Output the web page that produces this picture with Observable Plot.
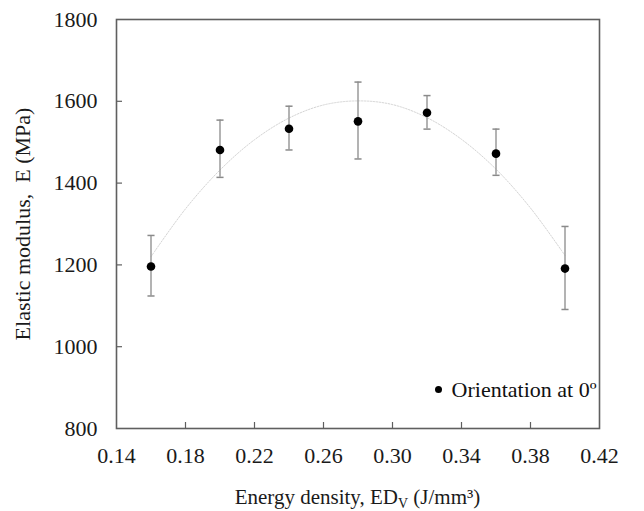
<!DOCTYPE html>
<html><head><meta charset="utf-8">
<script src="https://cdn.jsdelivr.net/npm/d3@7"></script>
<script src="https://cdn.jsdelivr.net/npm/@observablehq/plot@0.6"></script>
<style>
body{margin:0;background:#fff}
#chart{width:644px;height:511px}
#chart svg, #chart svg text{font-family:'Liberation Serif','Times New Roman',Times,'DejaVu Serif',serif !important}
</style>
</head><body><div id="chart"></div>
<script>
const energyDensity = [0.16, 0.20, 0.24, 0.28, 0.32, 0.36, 0.40];
const modulusMean   = [1196, 1481, 1533, 1551, 1572, 1472, 1191];
const modulusLow    = [1124, 1414, 1481, 1459, 1532, 1419, 1091];
const modulusHigh   = [1272, 1554, 1588, 1647, 1614, 1532, 1294];
// Trend line
const trendX = [0.16, 0.18, 0.20, 0.22, 0.24, 0.26, 0.28, 0.30, 0.32, 0.34, 0.36, 0.38, 0.40];
const trendE = [1220, 1337, 1432, 1506, 1559, 1591, 1601, 1592, 1560, 1507, 1434, 1339, 1223];
const xTicks = [0.14, 0.18, 0.22, 0.26, 0.30, 0.34, 0.38, 0.42];
const yTicks = [800, 1000, 1200, 1400, 1600, 1800];
const legendLabel = "Orientation at 0º";
const yTitle = "Elastic modulus,  E (MPa)";

const points = energyDensity.map((x, i) => ({x, e: modulusMean[i], lo: modulusLow[i], hi: modulusHigh[i]}));
const trend = trendX.map((x, i) => ({x, e: trendE[i]}));

const capSymbol = {
  draw(ctx, size) { const w = Math.sqrt(size) / 2; ctx.moveTo(-w, 0); ctx.lineTo(w, 0); }
};

const font = "'Liberation Serif', 'Times New Roman', Times, 'DejaVu Serif', serif";
const axisGray = "#5f5f5f";

const chart = Plot.plot({
  width: 644,
  height: 511,
  marginLeft: 116,
  marginRight: 45,
  marginTop: 19,
  marginBottom: 83,
  style: {fontFamily: font, fontSize: "22px", color: "#1a1a1a", background: "#fff"},
  x: {domain: [0.14, 0.42]},
  y: {domain: [800, 1800]},
  marks: [
    Plot.line(trend, {x: "x", y: "e", curve: "catmull-rom", stroke: "#d4d4d4", strokeWidth: 1, strokeDasharray: "1.5,1.5"}),
    Plot.ruleX(points, {x: "x", y1: "lo", y2: "hi", stroke: "#9a9a9a", strokeWidth: 1.5}),
    Plot.dot(points, {x: "x", y: "lo", symbol: capSymbol, r: 4, stroke: "#8a8a8a", strokeWidth: 1.5}),
    Plot.dot(points, {x: "x", y: "hi", symbol: capSymbol, r: 4, stroke: "#8a8a8a", strokeWidth: 1.5}),
    Plot.dot(points, {x: "x", y: "e", r: 4.3, fill: "#000", stroke: "none"}),
    Plot.axisX({ticks: xTicks, tickSize: 0, tickPadding: 19, tickFormat: d3.format(".2f"), label: null, fill: "#1a1a1a", fontSize: 22}),
    Plot.axisX({ticks: xTicks.slice(1, -1), tickSize: -6, tickFormat: () => "", label: null, stroke: axisGray, strokeWidth: 1.2}),
    Plot.axisY({ticks: yTicks, tickSize: 0, tickPadding: 19, tickFormat: d3.format("d"), label: yTitle, labelAnchor: "center", labelArrow: "none", labelOffset: 102, fill: "#1a1a1a", fontSize: 22}),
    Plot.axisY({ticks: yTicks.slice(1, -1), tickSize: -6, tickFormat: () => "", label: null, stroke: axisGray, strokeWidth: 1.2}),
    Plot.frame({stroke: axisGray, strokeWidth: 1.6}),
    Plot.dot([legendLabel], {frameAnchor: "bottom-right", dx: -161, dy: -39, r: 3.5, fill: "#000"}),
    Plot.text([legendLabel], {text: d => d, frameAnchor: "bottom-right", textAnchor: "end", lineAnchor: "middle", dx: -3, dy: -39, fontSize: 22, fill: "#111"})
  ]
});

document.getElementById("chart").appendChild(chart);

// x-axis title with subscript and superscript
const svg = d3.select(chart);
const t = svg.append("text")
  .attr("x", (116 + 599) / 2)
  .attr("y", 504)
  .attr("text-anchor", "middle")
  .attr("font-size", 21)
  .attr("fill", "#1a1a1a");
t.append("tspan").text("Energy density, ED");
t.append("tspan").attr("font-size", 14).attr("dy", 4).text("V");
t.append("tspan").attr("dy", -4).text(" (J/mm³)");
</script>
</body></html>
